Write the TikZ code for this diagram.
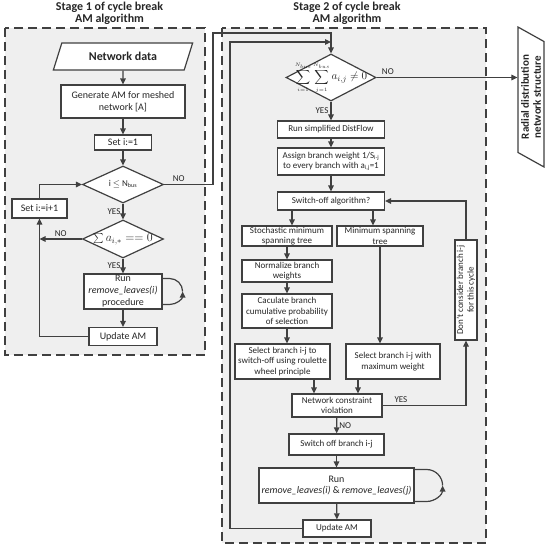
\documentclass[tikz,border=0pt]{standalone}
\usepackage{fontspec}
\setmainfont{Carlito}
\usetikzlibrary{arrows.meta,positioning,shapes.geometric}

\definecolor{linegray}{HTML}{404040}
\definecolor{panelgray}{HTML}{EFEFEF}
\definecolor{textgray}{HTML}{262626}

\begin{document}
\begin{tikzpicture}[x=1pt,y=-1pt,>={Triangle[length=6pt,width=5.5pt]},
  color=linegray,text=textgray,line width=1.2pt,
  box/.style={draw,fill=white,align=center,inner sep=0.5pt,font=\fontsize{9}{10.5}\selectfont},
  boxa/.style={box,font=\fontsize{10}{12}\selectfont},
  dia/.style={draw,fill=white,diamond,aspect=2.2,inner sep=0pt},
  data/.style={draw,fill=white,trapezium,trapezium left angle=61,trapezium right angle=119,
    trapezium stretches,align=center,inner sep=0pt,minimum width=140pt},
  lbl/.style={font=\fontsize{9}{10}\selectfont,inner sep=2pt},
  panel/.style={draw,fill=panelgray,dash pattern=on 9pt off 5pt,line width=1.8pt},
  title/.style={align=center,font=\bfseries\fontsize{12}{12}\selectfont}]
\useasboundingbox (0,0) rectangle (549,550);

% panels and titles
\draw[panel] (5,28) rectangle (205,355);
\draw[panel] (222,28) rectangle (486,543);
\node[title] (title1) at (109.5,13.5) {Stage 1 of cycle break\\AM algorithm};
\node[title] (title2) at (347,13.5) {Stage 2 of cycle break\\AM algorithm};

% stage 1
\node[data,minimum height=27pt,font=\bfseries\fontsize{12}{14}\selectfont] (data) at (123,56.5) {Network data};
\node[boxa,minimum width=124pt,minimum height=33pt] (gen) at (123,101.5) {Generate AM for meshed\\network [A]};
\node[boxa,minimum width=57pt,minimum height=15pt] (set1) at (123,142.5) {Set i:=1};
\node[dia,minimum width=81pt,minimum height=37pt,font=\fontsize{9}{10}\selectfont] (d1) at (123,184.5) {i $\leq$ N\textsubscript{bus}};
\node[dia,minimum width=81pt,minimum height=38pt,inner xsep=-12pt,inner ysep=-4pt,
  font=\fontsize{12}{14}\selectfont] (d2) at (123,239) {$\sum a_{i,*}==0$};
\node[boxa,minimum width=78pt,minimum height=35pt] (run1) at (123,291.5) {Run\\\textit{remove\_leaves(i)}\\procedure};
\node[boxa,minimum width=68pt,minimum height=18pt] (upd1) at (123,336.5) {Update AM};
\node[boxa,minimum width=55pt,minimum height=19pt] (set2) at (39.5,208.5) {Set i:=i+1};

\draw[->] (data) -- (gen);
\draw[->] (gen) -- (set1);
\draw[->] (set1) -- (d1);
\draw[->] (d1) -- node[lbl,left] {YES} (d2);
\draw[->] (d2) -- node[lbl,left] {YES} (run1);
\draw[->] (run1) -- (upd1);
\draw[->] (upd1.west) -| (set2.south);
\draw[->] (d2.west) -- node[lbl,above] {NO} (d2.west -| set2.south);
\draw[->] (set2.north) |- (d1.west);
\draw[->] (run1.east) ++(0,13) -- ++(7,0) arc[start angle=90,end angle=0,radius=13];
\draw (run1.east) ++(20,0) arc[start angle=0,end angle=-90,radius=13] -- ++(-7,0);

% stage 2
\node[dia,minimum width=90pt,minimum height=47pt,inner xsep=-16pt,inner ysep=-10pt,
  font=\fontsize{11}{13}\selectfont] (d3) at (331,77.5)
  {$\displaystyle\sum_{\scriptscriptstyle i=1}^{\scriptscriptstyle N_{bus}}\sum_{\scriptscriptstyle j=1}^{\scriptscriptstyle N_{bus}}a_{i,j}\neq0$};
\node[data,rotate=90,minimum height=26pt,font=\bfseries\fontsize{11}{12}\selectfont] (radial) at (531,97)
  {Radial distribution\\network structure};
\node[box,minimum width=107pt,minimum height=17pt] (rsd) at (331,129.5) {Run simplified DistFlow};
\node[box,minimum width=107pt,minimum height=27pt] (asg) at (331,161.5) {Assign branch weight 1/S\textsubscript{i-j}\\to every branch with a\textsubscript{i,j}=1};
\node[box,minimum width=107pt,minimum height=18pt] (sw) at (331,201) {Switch-off algorithm?};
\node[box,minimum width=90pt,minimum height=20pt] (stoch) at (287,236) {Stochastic minimum\\spanning tree};
\node[box,minimum width=86pt,minimum height=20pt] (mst) at (380,236) {Minimum spanning\\tree};
\node[box,minimum width=90pt,minimum height=22pt] (norm) at (287,271) {Normalize branch\\weights};
\node[box,minimum width=90pt,minimum height=34pt] (calc) at (287,311) {Caculate branch\\cumulative probability\\of selection};
\node[box,minimum width=95pt,minimum height=35pt] (rw) at (282.5,361.5) {Select branch i-j to\\switch-off using roulette\\wheel principle};
\node[box,minimum width=94pt,minimum height=35pt] (mx) at (393,361.5) {Select branch i-j with\\maximum weight};
\node[box,rotate=90,minimum width=100pt,minimum height=22pt] (dont) at (466,290) {Don't consider branch i-j\\for this cycle};
\node[box,minimum width=90pt,minimum height=23pt] (ncv) at (337,405.5) {Network constraint\\violation};
\node[box,minimum width=95pt,minimum height=21pt] (swb) at (336.5,444.5) {Switch off branch i-j};
\node[boxa,minimum width=155pt,minimum height=35pt,font=\fontsize{10}{11.5}\selectfont] (run2) at (336.5,485.5)
  {Run\\\textit{remove\_leaves(i)} \& \textit{remove\_leaves(j)}};
\node[box,minimum width=68pt,minimum height=17pt] (upd2) at (337,528.5) {Update AM};

\draw[->] (d1.east) -- node[lbl,above,pos=.3] {NO} (d1.east -| 213,0) |- (d3.north |- 0,33) -- (d3.north);
\draw[->] (d3.east) -- node[lbl,above,pos=.08] {NO} (d3.east -| radial.north);
\draw[->] (d3.south) -- node[lbl,left] {YES} (rsd.north);
\draw[->] (rsd) -- (asg);
\draw[->] (asg) -- (sw);
\draw[->] ([xshift=5pt]stoch.north |- sw.south) -- ([xshift=5pt]stoch.north);
\draw[->] ([xshift=-7pt]mst.north |- sw.south) -- ([xshift=-7pt]mst.north);
\draw[->] (stoch) -- (norm);
\draw[->] (norm) -- (calc);
\draw[->] (calc.south) -- (calc.south |- rw.north);
\draw[->] (mst.south) -- (mst.south |- mx.north);
\draw[->] ([xshift=31.5pt]rw.south) -- ([xshift=31.5pt]rw.south |- ncv.north);
\draw[->] ([xshift=-35pt]mx.south) -- ([xshift=-35pt]mx.south |- ncv.north);
\draw[->] (ncv.east) -| node[lbl,above,pos=.11] {YES} (dont.west);
\draw[->] (dont.east) |- (sw.east);
\draw[->] (ncv) -- node[lbl,right] {NO} (swb);
\draw[->] (swb) -- (run2);
\draw[->] (run2) -- (upd2);
\draw[->] (run2.east) ++(0,16) -- ++(12,0) arc[start angle=90,end angle=0,radius=16];
\draw (run2.east) ++(28,0) arc[start angle=0,end angle=-90,radius=16] -- ++(-12,0);
\draw[->] (upd2.west) -| (230,42) -- (d3.north |- 0,42);
\end{tikzpicture}
\end{document}
